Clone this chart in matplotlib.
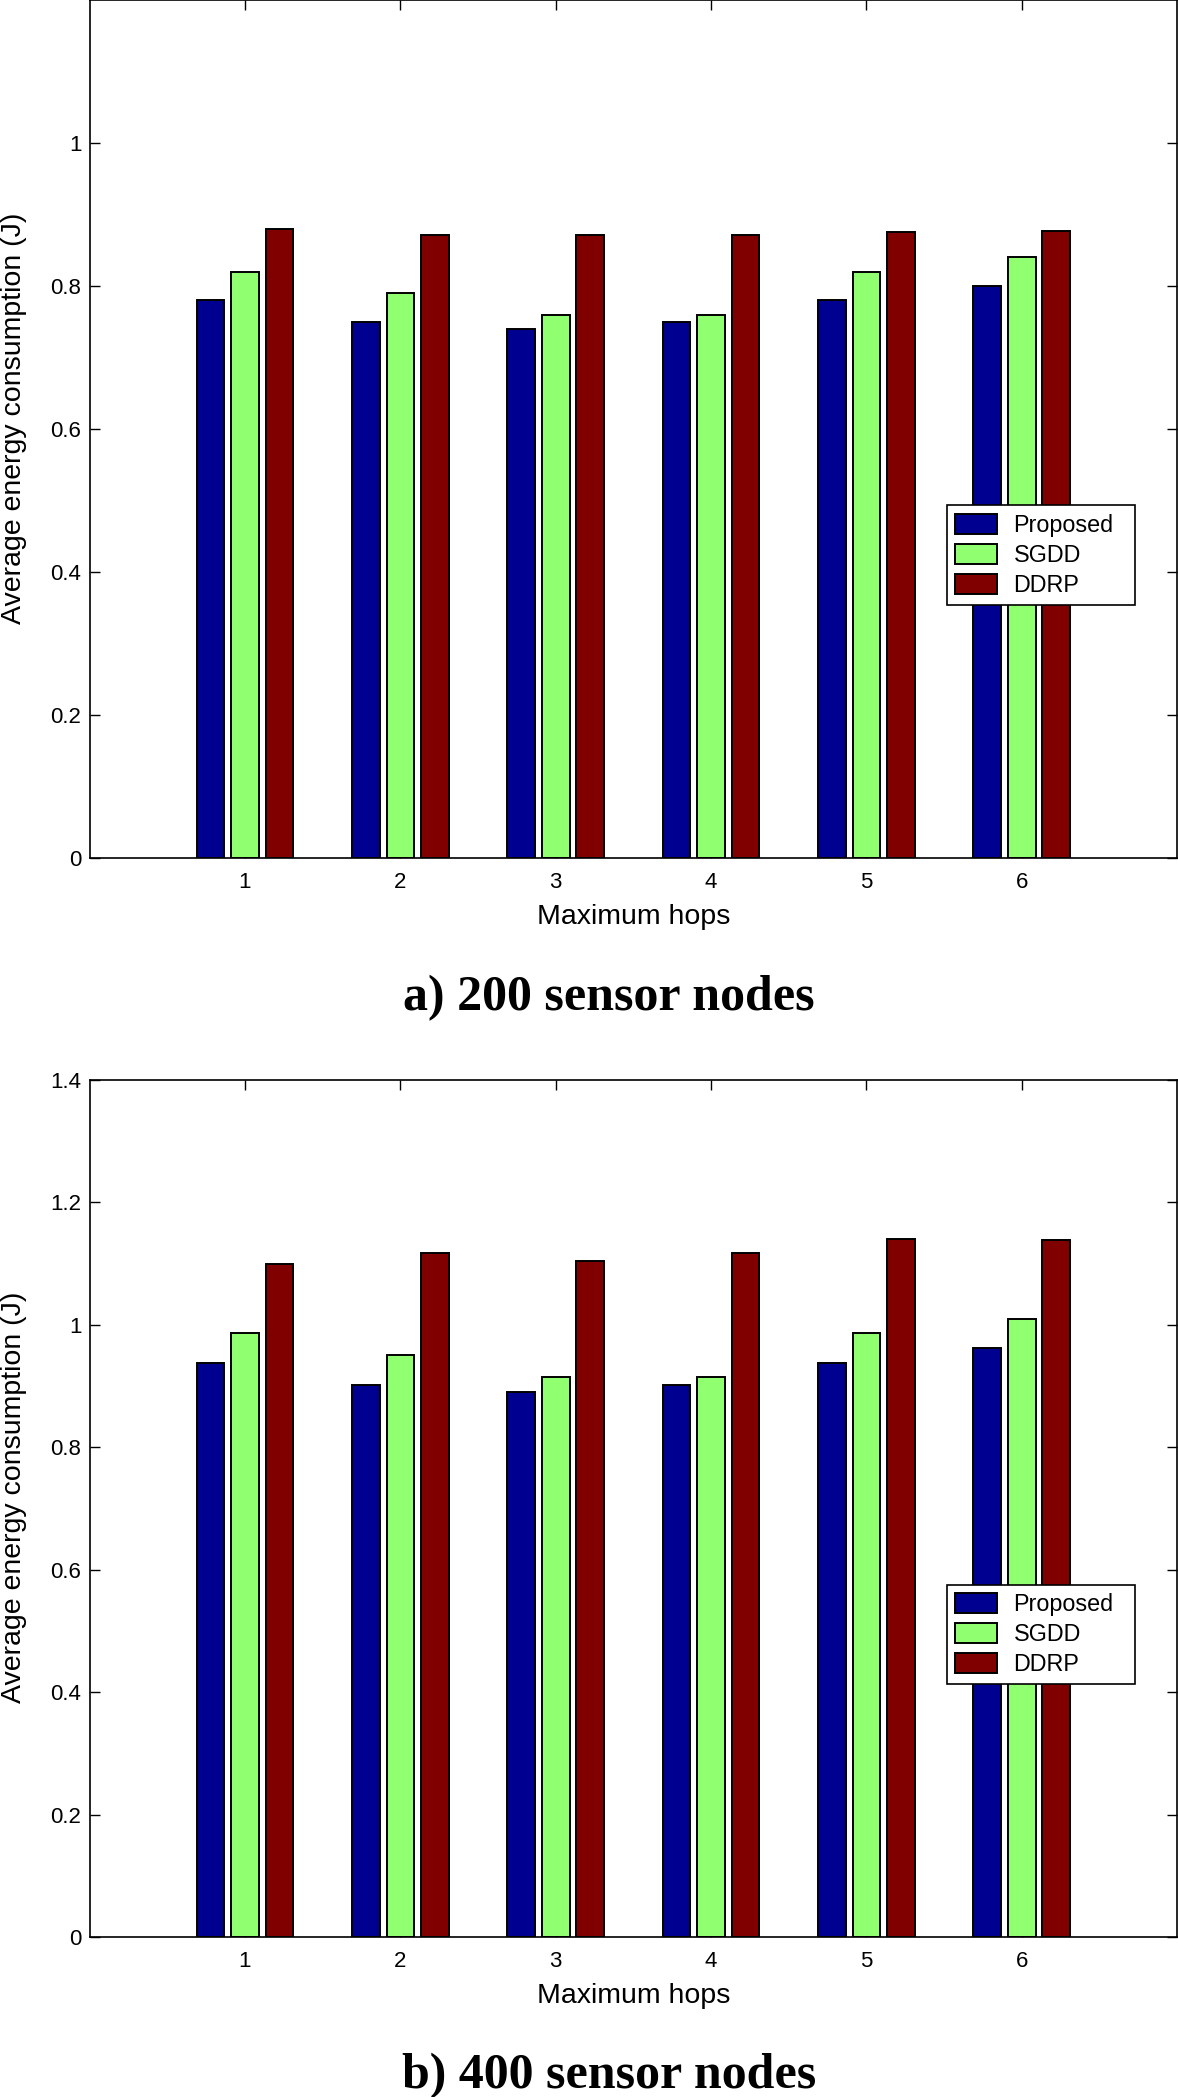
import matplotlib
matplotlib.use('Agg')
import matplotlib.pyplot as plt
import numpy as np

hops = [1, 2, 3, 4, 5, 6]
series = ['Proposed', 'SGDD', 'DDRP']
colors = ['#000090', '#90ff70', '#800000']

# 200 sensor nodes
proposed_200 = [0.78, 0.75, 0.74, 0.75, 0.78, 0.80]
sgdd_200 = [0.82, 0.79, 0.76, 0.76, 0.82, 0.84]
ddrp_200 = [0.88, 0.872, 0.872, 0.872, 0.875, 0.877]

# 400 sensor nodes
proposed_400 = [0.938, 0.902, 0.890, 0.902, 0.938, 0.962]
sgdd_400 = [0.986, 0.950, 0.914, 0.914, 0.986, 1.010]
ddrp_400 = [1.100, 1.118, 1.105, 1.118, 1.141, 1.138]

plt.rcParams['font.family'] = ['Liberation Sans', 'DejaVu Sans']


def draw_panel(ax, data, ymax, yticks, caption, cap_y):
    x = np.array(hops)
    step = 0.2222
    for j, vals in enumerate(data):
        ax.bar(x + (j - 1) * step, vals, width=0.178, color=colors[j],
               edgecolor='black', linewidth=1.4, label=series[j], zorder=2)
    ax.set_xlim(0, 7)
    ax.set_ylim(0, ymax)
    ax.set_xticks(hops)
    ax.set_yticks(yticks)
    ax.set_yticklabels([('%g' % t) for t in yticks])
    ax.tick_params(direction='in', length=7, width=1, top=True, right=True,
                   labelsize=16)
    ax.tick_params(axis='x', pad=10)
    ax.tick_params(axis='y', pad=6)
    for s in ax.spines.values():
        s.set_linewidth(1.2)
    ax.set_xlabel('Maximum hops', fontsize=20.5, labelpad=8)
    ax.set_ylabel('Average energy consumption (J)', fontsize=20.5, labelpad=14)
    ax.yaxis.set_label_coords(-0.058, 0.513)
    # legend box stretched to the size seen in the original
    leg = ax.legend(loc='upper left', bbox_to_anchor=(0.7885, 0.302, 0.173, 0.109),
                    mode='expand', borderaxespad=0, fontsize=16.8, fancybox=False,
                    framealpha=1, edgecolor='black', handlelength=1.8,
                    handleheight=0.95, handletextpad=0.7, labelspacing=0.3,
                    borderpad=0.35)
    leg.get_frame().set_linewidth(1.2)
    fig.text(0.517, cap_y, caption, ha='center', va='baseline',
             fontsize=36, fontweight='bold', family='Liberation Serif')


fig = plt.figure(figsize=(11.78, 20.97), dpi=100)
ax1 = fig.add_axes([0.0761, 0.5908, 0.9231, 0.4092])
ax2 = fig.add_axes([0.0761, 0.0763, 0.9231, 0.4087])

draw_panel(ax1, [proposed_200, sgdd_200, ddrp_200], 1.2,
           [0, 0.2, 0.4, 0.6, 0.8, 1.0], 'a) 200 sensor nodes', 0.5184)
draw_panel(ax2, [proposed_400, sgdd_400, ddrp_400], 1.4,
           [0, 0.2, 0.4, 0.6, 0.8, 1.0, 1.2, 1.4], 'b) 400 sensor nodes', 0.0043)

fig.savefig('out.png', dpi=100)
